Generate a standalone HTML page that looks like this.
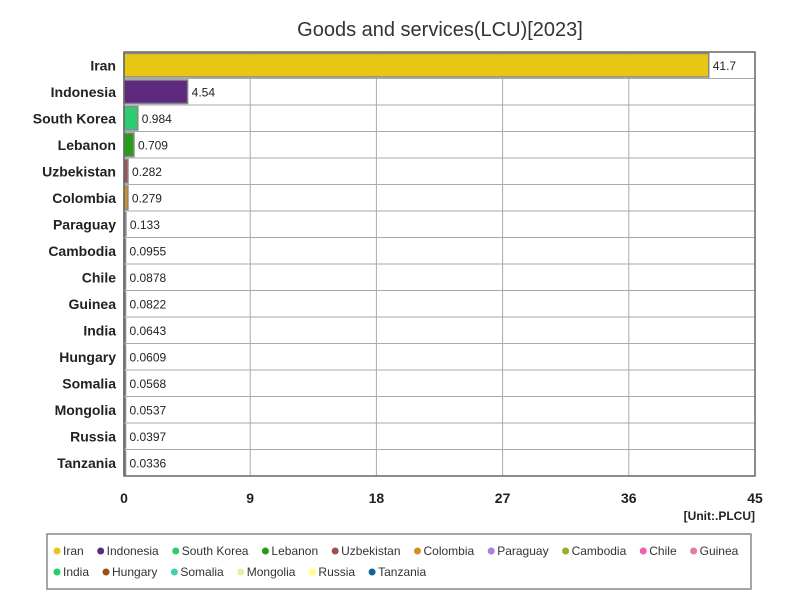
<!DOCTYPE html>
<html><head><meta charset="utf-8"><style>
body{margin:0;background:#fff;font-family:"Liberation Sans",sans-serif;}
svg text{font-family:"Liberation Sans",sans-serif;}
</style></head><body>
<svg id="chart" width="800" height="600" xmlns="http://www.w3.org/2000/svg">
<text x="440" y="36" text-anchor="middle" font-size="20" fill="#333">Goods and services(LCU)[2023]</text>
<g id="grid"></g><g id="bars"></g><g id="labels"></g>
<rect x="124" y="52" width="631" height="424" fill="none" stroke="#666" stroke-width="1.5"/>
<text x="755" y="520" text-anchor="end" font-size="12" font-weight="bold" fill="#222">[Unit:.PLCU]</text>
<rect x="47" y="534" width="704" height="55" fill="#fff" stroke="#888" stroke-width="1.5"/>
<g id="legend"></g>
</svg>
<script>
const categories=["Iran","Indonesia","South Korea","Lebanon","Uzbekistan","Colombia","Paraguay","Cambodia","Chile","Guinea","India","Hungary","Somalia","Mongolia","Russia","Tanzania"];
const values=[41.7,4.54,0.984,0.709,0.282,0.279,0.133,0.0955,0.0878,0.0822,0.0643,0.0609,0.0568,0.0537,0.0397,0.0336];
const valueLabels=["41.7","4.54","0.984","0.709","0.282","0.279","0.133","0.0955","0.0878","0.0822","0.0643","0.0609","0.0568","0.0537","0.0397","0.0336"];
const colors=["#e8c614","#5e2a80","#2ecc71","#2a9a1a","#a05050","#d4901e","#b07de0","#96b01e","#f060b0","#e080a0","#20d060","#9a5010","#40d0b0","#e8f0a0","#ffff80","#106890"];
const ticks=[0,9,18,27,36,45];
const X0=124,X1=755,Y0=52,Y1=476,XMAX=45;
const NS="http://www.w3.org/2000/svg";
const x=v=>X0+v/XMAX*(X1-X0);
const rowH=(Y1-Y0)/categories.length;
const y=i=>Y0+i*rowH;
function mk(tag,attrs,parent){const e=document.createElementNS(NS,tag);for(const k in attrs)e.setAttribute(k,attrs[k]);document.getElementById(parent).appendChild(e);return e;}
ticks.forEach(t=>{
 const l=mk("line",{x1:x(t),x2:x(t),y1:Y0,y2:Y1,stroke:"#aaa","stroke-width":1},"grid");
 
 
 const tx=mk("text",{x:x(t),y:503,"text-anchor":"middle","font-size":14,"font-weight":"bold",fill:"#222"},"labels");
 tx.textContent=t;
 
 
});
categories.forEach((c,i)=>{
 if(i>0){const l=mk("line",{x1:X0,x2:X1,y1:y(i),y2:y(i),stroke:"#aaa","stroke-width":1},"grid");
 
 }
 const w=Math.max(x(values[i])-X0,1.5);
 const b=mk("rect",{x:X0,y:y(i)+1.5,width:w,height:rowH-3,fill:colors[i],stroke:"#888","stroke-width":1.5},"bars");
 
 
 const lb=mk("text",{x:X0+w+4,y:y(i)+rowH/2+4.5,"font-size":12,fill:"#222"},"labels");
 lb.textContent=valueLabels[i];
 
 
 const cl=mk("text",{x:116,y:y(i)+rowH/2+5,"text-anchor":"end","font-size":14,"font-weight":"bold",fill:"#222"},"labels");
 cl.textContent=c;
 
 
});
const ctx=document.createElement("canvas").getContext("2d");ctx.font="12px 'Liberation Sans'";
let lx=57,ly=551;
categories.forEach((c,i)=>{
 const tw=ctx.measureText(c).width;
 if(lx+10+tw>748){lx=57;ly+=21;}
 const g=mk("g",{},"legend");
 
 
 const d=document.createElementNS(NS,"circle");d.setAttribute("cx",lx);d.setAttribute("cy",ly);d.setAttribute("r",3.5);d.setAttribute("fill",colors[i]);g.appendChild(d);
 const t=document.createElementNS(NS,"text");t.setAttribute("x",lx+6);t.setAttribute("y",ly+4);t.setAttribute("font-size",12);t.setAttribute("fill","#333");t.textContent=c;g.appendChild(t);
 lx+=6+tw+17;
});
</script>
</body></html>
